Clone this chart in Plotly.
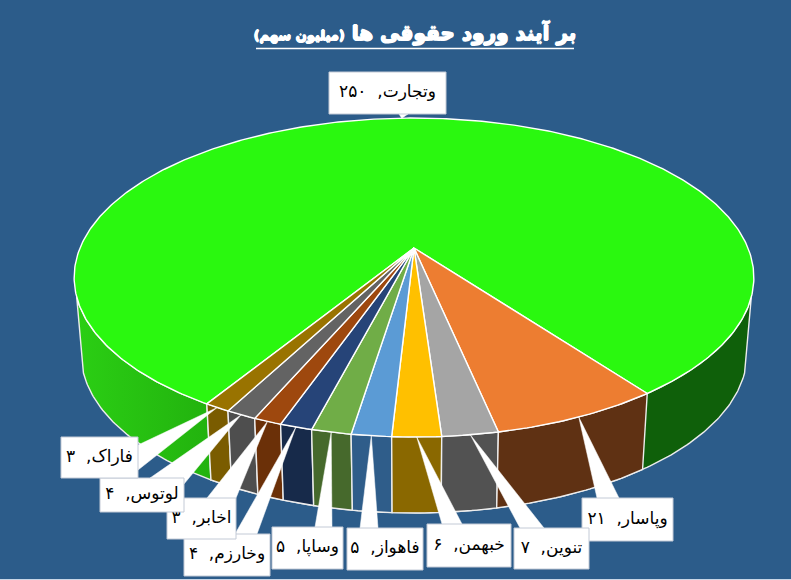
import numpy as np
import plotly.graph_objects as go

names = ["وتجارت", "وپاسار", "تنوین", "خبهمن", "فاهواز", "وساپا", "وخارزم", "اخابر", "لوتوس", "فاراک"]
values = [250, 21, 6.9, 6.0, 4.9, 4.9, 4.0, 3.49, 3.8, 3.2]
value_labels = ["۲۵۰", "۲۱", "۷", "۶", "۵", "۵", "۴", "۳", "۴", "۳"]

top_colors = ["#2AF80F", "#ED7D31", "#A5A5A5", "#FFC000", "#5B9BD5", "#70AD47", "#264478", "#9E480E", "#636363", "#997300"]
side_colors = ["#0F600A", "#5F3113", "#525252", "#8A6800", "#2F5D8A", "#46692C", "#172A4A", "#6B3008", "#4E4E4E", "#7A5C00"]
BG = "#2C5C8A"

# pie projection (pixel layout of the 3D pie)
CX, CY, A, B, K, DEPTH, XS = 414, 248, 334, 154, 0.185, 76, 0.98
START = 211.5
SILHOUETTE_L, SILHOUETTE_R = 252.5, 107.5

# label boxes x0, y0, x1, y1 and callout bases
boxes = [(329, 72, 446, 114), (582, 498, 673, 541), (514, 528, 589, 569), (427, 524, 511, 567),
         (347, 528, 423, 570), (272, 527, 343, 569), (184, 534, 270, 576), (167, 498, 236, 539),
         (100, 478, 184, 512), (61, 437, 138, 478)]
bases = [(399, 114, 408, 114), (597, 498, 619, 498), (520, 528, 544, 528), (442, 524, 462, 524),
         (360, 528, 378, 528), (315, 527, 332, 527), (235, 534, 257, 534), (207, 498, 236, 498),
         (150, 478, 184, 484), (138, 445, 138, 470)]


def top_pt(deg):
    t = np.radians(deg)
    x, y = np.sin(t), -np.cos(t)
    w = 1 - K * y
    return CX + A * x / w, CY + B * y / w


def bot_pt(deg):
    x, y = top_pt(deg)
    return CX + XS * (x - CX), y + DEPTH


def arc(fn, d0, d1):
    n = max(3, int(abs(d1 - d0) * 1.5))
    pts = [fn(d) for d in np.linspace(d0, d1, n)]
    return [p[0] for p in pts], [p[1] for p in pts]


total = sum(values)
edges = [START]
for v in values:
    edges.append(edges[-1] + 360.0 * v / total)

fig = go.Figure()


def poly(xs, ys, color, line="white", lw=1.4, gradient=None):
    kw = dict(fillgradient=gradient) if gradient else dict(fillcolor=color)
    fig.add_trace(go.Scatter(x=xs, y=ys, mode="lines", fill="toself", line=dict(color=line, width=lw),
                             hoverinfo="skip", showlegend=False, **kw))


def side(d0, d1, color, gradient=None, lw=1.4):
    xa, ya = arc(top_pt, d0, d1)
    xb, yb = arc(bot_pt, d1, d0)
    poly(xa + xb + xa[:1], ya + yb + ya[:1], color, line="#EDEDED", lw=lw, gradient=gradient)


# green side: right part and left part
side(SILHOUETTE_R, edges[-1] - 360, side_colors[0])
green_left = dict(type="horizontal", start=75, stop=210,
                  colorscale=[[0, "#2BCF14"], [1, "#22B20E"]])
side(edges[0], SILHOUETTE_L, side_colors[0], gradient=green_left)

# front sides of the small slices, far ones first
for i in range(len(values) - 1, 0, -1):
    side(edges[i], edges[i + 1], side_colors[i])

# top faces
for i, v in enumerate(values):
    xa, ya = arc(top_pt, edges[i], edges[i + 1])
    poly([CX] + xa + [CX], [CY] + ya + [CY], top_colors[i])

# labels in series order, later ones on top
for i, name in enumerate(names):
    mid = (edges[i] + edges[i + 1]) / 2
    tx, ty = top_pt(mid)
    x0, y0, x1, y1 = boxes[i]
    ax, ay, bx, by = bases[i]
    fig.add_trace(go.Scatter(x=[ax, tx, bx, ax], y=[ay, ty, by, ay], mode="lines", fill="toself",
                             fillcolor="white", line=dict(color="white", width=0.5),
                             hoverinfo="skip", showlegend=False))
    fig.add_trace(go.Scatter(x=[x0, x1, x1, x0, x0], y=[y0, y0, y1, y1, y0], mode="lines", fill="toself",
                             fillcolor="white", line=dict(color="#C3CAD6", width=1),
                             hoverinfo="skip", showlegend=False))
    fig.add_trace(go.Scatter(x=[(x0 + x1) / 2], y=[(y0 + y1) / 2], mode="text",
                             text=[f"\u200f{name},\u00a0\u00a0{value_labels[i]}"],
                             textposition="middle center",
                             textfont=dict(family="DejaVu Sans", size=17, color="black"),
                             hoverinfo="skip", showlegend=False))

fig.update_layout(
    width=791, height=580, autosize=False,
    margin=dict(l=0, r=0, t=0, b=0),
    paper_bgcolor=BG, plot_bgcolor=BG,
    showlegend=False,
    xaxis=dict(range=[0, 791], visible=False, fixedrange=True),
    yaxis=dict(range=[580, 0], visible=False, fixedrange=True),
    title=dict(text='بر آیند ورود حقوقی ها <span style="font-size:13px">(میلیون سهم)</span>',
               x=415 / 791, xanchor="center", y=1 - 33 / 580, yanchor="middle",
               font=dict(family="DejaVu Sans", size=20, color="white", weight=700,
                         shadow="0.7px 0 0 white, -0.7px 0 0 white, 0 0.7px 0 white, 0 -0.7px 0 white")),
    shapes=[dict(type="line", x0=256, x1=574, y0=48.5, y1=48.5, xref="x", yref="y",
                 line=dict(color="white", width=1.5)),
            dict(type="line", x0=0, x1=791, y0=579.5, y1=579.5, xref="x", yref="y",
                 line=dict(color="#C9D6E6", width=1))],
)

fig.write_html("out.html", config={"displayModeBar": False},
               post_script="document.body.style.margin='0';")
